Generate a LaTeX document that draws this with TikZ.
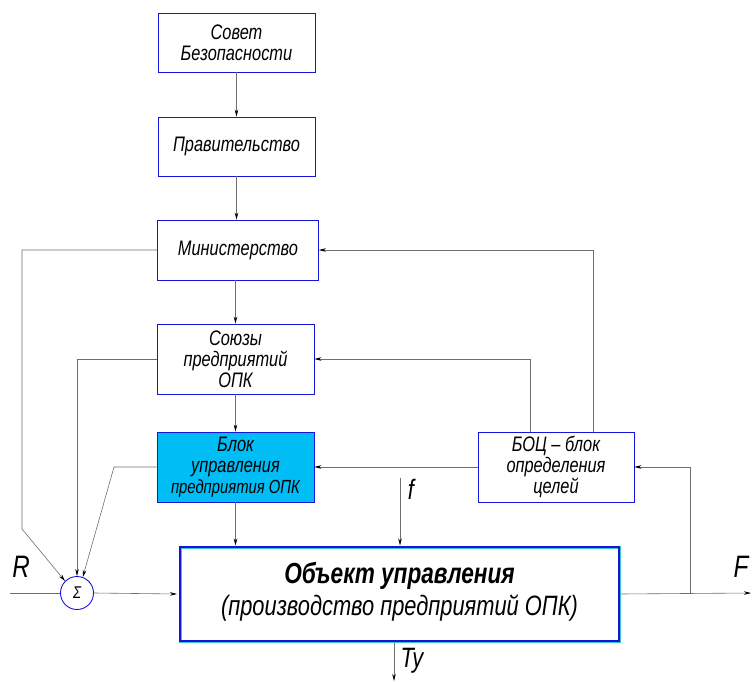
\documentclass[tikz,border=0pt]{standalone}
\usepackage{fontspec}
\setmainfont{Liberation Sans}[FakeStretch=0.78]
\usetikzlibrary{arrows.meta,calc}
\definecolor{boxblue}{RGB}{20,20,220}
\definecolor{fillcyan}{RGB}{0,190,245}
\definecolor{linegray}{RGB}{110,110,110}
\definecolor{outcyan}{RGB}{60,200,200}
\tikzset{
  blk/.style={draw=boxblue, line width=0.9pt, align=center, inner sep=0pt, font=\fontsize{21}{21}\selectfont\itshape},
  conn/.style={draw=linegray, line width=0.6pt, -{Stealth[length=7pt,width=3.5pt,fill=black,color=black]}},
  plain/.style={draw=linegray, line width=0.6pt},
  lbl/.style={font=\fontsize{31}{34}\selectfont\itshape, inner sep=0pt},
}
\begin{document}
\begin{tikzpicture}[x=1pt,y=-1pt]
\useasboundingbox (0,0) rectangle (752,682);
\node[blk, minimum width=157pt, minimum height=59pt] (sovet) at (236.5,42.5) {Совет\\Безопасности};
\node[blk, minimum width=157pt, minimum height=59pt] (prav) at (236.5,146.5) {Правительство};
\node[blk, minimum width=161pt, minimum height=60pt] (min) at (238,250) {Министерство};
\node[blk, minimum width=157pt, minimum height=70pt] (soyuz) at (235.5,359) {Союзы\\предприятий\\ОПК};
\node[blk, fill=fillcyan, minimum width=157pt, minimum height=70pt] (blok) at (235.5,467) {Блок\\управления\\{\fontsize{19}{21}\selectfont предприятия ОПК}};
\node[blk, minimum width=156pt, minimum height=70pt] (boc) at (556,467) {БОЦ – блок\\определения\\целей};
% main object
\node[draw=outcyan, line width=3pt, minimum width=439pt, minimum height=94pt, inner sep=0pt] (main) at (399.5,594) {};
\draw[boxblue, line width=1.4pt] ($(main.north west)+(1.5,1.5)$) rectangle ($(main.south east)+(-1.5,-1.5)$);
\node[align=center, inner sep=0pt] (maintext) at ($(main.center)+(0,-2)$) {{\fontsize{29}{30}\selectfont\bfseries\itshape Объект управления}\\[4pt]{\fontsize{28}{30}\selectfont\itshape (производство предприятий ОПК)}};
% sum
\node[draw=boxblue, circle, line width=0.9pt, minimum size=33pt, inner sep=0pt, font=\fontsize{17}{17}\selectfont\itshape] (sum) at (77,593) {Σ};
% coordinates
\coordinate (rin) at (10,593);
\coordinate (fout) at (751,593);
\coordinate (ftop) at (400,478);
\coordinate (tyend) at (394,681);
\coordinate (c1) at (22,250);
\coordinate (c2) at (22,529);
\coordinate (c3) at (77,359);
\coordinate (c4) at (114,467);
\coordinate (c5) at (530,359);
\coordinate (c6) at (593,250);
\coordinate (c7) at (690,593);
\coordinate (c8) at (690,467);
% connectors
\draw[conn] (sovet.south) -- (prav.north);
\draw[conn] (prav.south) -- (prav.south |- min.north);
\draw[conn] (min.south -| soyuz.south) -- (soyuz.north);
\draw[conn] (soyuz.south) -- (blok.north);
\draw[conn] (blok.south) -- (blok.south |- main.north);
\draw[conn] (boc.west) -- (blok.east);
\draw[conn] (boc.north -| c5) -- (c5) -- (soyuz.east);
\draw[conn] (boc.north -| c6) -- (c6) -- (min.east);
\draw[conn] (main.east) -- (fout);
\draw[conn] (c7) -- (c8) -- (boc.east);
\draw[conn] (min.west) -- (c1) -- (c2) -- (sum.135);
\draw[conn] (soyuz.west) -- (c3) -- (sum.north);
\draw[conn] (blok.west) -- (c4) -- (sum.70);
\draw[plain] (rin) -- (sum.west);
\draw[conn] (sum.east) -- ($(main.west)+(-1.5,0)$);
\draw[conn] (ftop) -- (ftop |- main.north);
\draw[conn] (main.south -| tyend) -- (tyend);
% labels
\node[lbl] (R) at (21,567) {R};
\node[lbl] (F) at (741,567) {F};
\node[lbl, font=\fontsize{28}{30}\selectfont\itshape] (f) at (411,489) {f};
\node[lbl, font=\fontsize{28}{30}\selectfont\itshape] (Ty) at (412,661) {Ty};
\end{tikzpicture}
\end{document}
